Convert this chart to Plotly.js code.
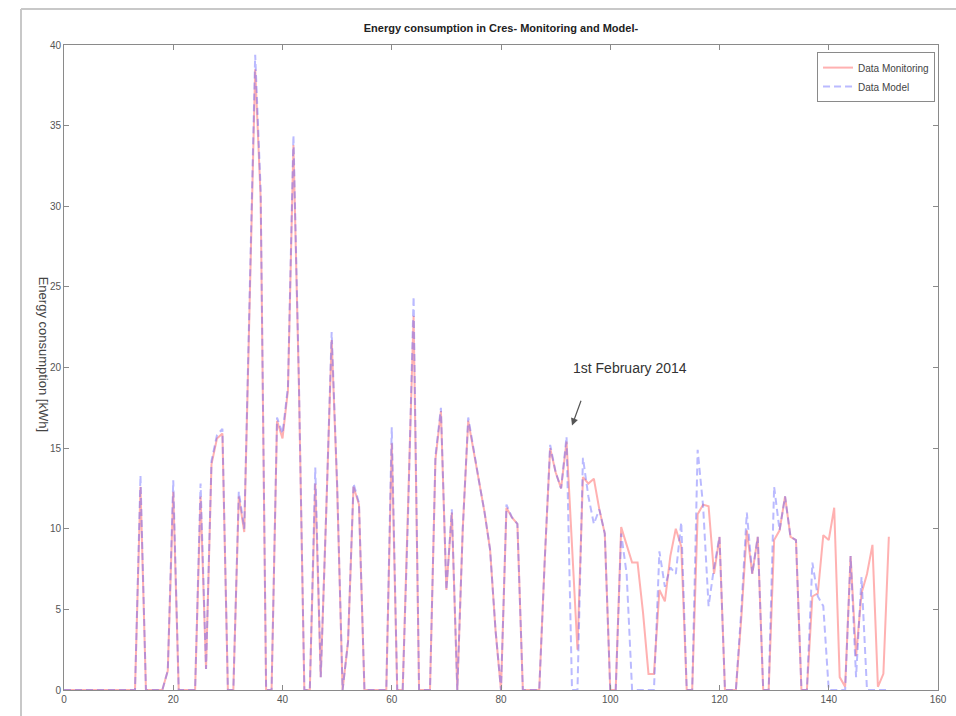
<!DOCTYPE html>
<html>
<head>
<meta charset="utf-8">
<script src="https://cdn.plot.ly/plotly-3.0.1.min.js"></script>
<style>html,body{margin:0;padding:0;background:#fff;}#chart{width:956px;height:716px;}</style>
</head>
<body>
<div id="chart"></div>
<script>
// Daily energy consumption (index = day)
var dataMonitoring = [
  0,0,0,0,0,0,0,0,0,0, 0,0,0,0,12.6,0,0,0,0,1.2,
  12.3,0,0,0,0,12.0,1.3,14.0,15.6,15.9, 0,0,12.0,9.8,24,38.5,30.5,0,0,16.7,
  15.6,18.6,33.8,19,0,0,12.8,0.8,11,21.7, 12.6,0,3,12.6,11.5,0,0,0,0,0,
  15.3,0,0,11,23.2,0,0,0,14.3,17.3, 6.2,11.0,0,10,16.7,14.8,12.9,11,8.7,3.7,
  0,11.3,10.7,10.3,0,0,0,0,8,15.0, 13.5,12.5,15.4,9,2.5,13.2,12.8,13.1,11.2,9.7,
  0,0,10.1,9.0,7.9,7.9,4.8,1.0,1.0,6.2, 5.5,8.3,10.0,8.9,0,0,10.9,11.5,11.4,7.2,
  9.5,0,0,0,4.5,9.9,7.2,9.5,0,0, 9.3,9.9,12.0,9.5,9.3,0,0,5.8,6.0,9.6,
  9.3,11.3,0.8,0.2,8.3,2.1,6.0,7.2,9.0,0.2, 1.0,9.5
];
var dataModel = [
  0,0,0,0,0,0,0,0,0,0, 0,0,0,0,13.3,0,0,0,0,1.2,
  13.0,0,0,0,0,12.8,1.3,14.2,15.8,16.2, 0,0,12.3,10.0,24.5,39.4,31,0,0,16.9,
  15.9,18.8,34.4,19.2,0,0,13.8,0.8,11,22.2, 12.8,0,3,12.8,11.6,0,0,0,0,0,
  16.3,0,0,11,24.4,0,0,0,14.5,17.5, 6.2,11.2,0,10,16.9,14.8,12.9,11,8.7,3.7,
  0,11.5,10.7,10.3,0,0,0,0,8,15.2, 13.5,12.5,15.7,0,0,14.4,12.0,10.3,11.2,9.7,
  0,0,9.7,7.2,0,0,0,0,0,8.6, 6.4,7.6,7.2,10.4,0,0,14.9,11.4,5.2,7.6,
  9.5,0,0,0,5,11,7.2,9.5,0,0, 12.6,9.9,12.0,9.5,9.3,0,0,7.9,5.8,5.2,
  0,0,0,0,8.3,0.8,7.0,0,0,0, 0,0
];
var seriesNames = ['Data Monitoring', 'Data Model'];
var xTicks = [0, 20, 40, 60, 80, 100, 120, 140, 160];
var yTicks = [0, 5, 10, 15, 20, 25, 30, 35, 40];
var titleText = 'Energy consumption in Cres- Monitoring and Model-';
var yTitleText = 'Energy consumption [kWh]';
var noteText = '1st February 2014';
var noteDay = 93, noteValue = 16.4;

var font = '"Liberation Sans", Arial, Helvetica, sans-serif';

var traces = [
  {y: dataMonitoring, type: 'scatter', mode: 'lines', name: seriesNames[0],
   line: {color: 'rgba(255,100,100,0.5)', width: 2}},
  {y: dataModel, type: 'scatter', mode: 'lines', name: seriesNames[1],
   line: {color: 'rgba(90,90,255,0.42)', width: 2, dash: '7px,4px'}}
];

var axisCommon = {
  showgrid: false, zeroline: false, showline: true, linecolor: '#8a8a8a', linewidth: 1,
  mirror: 'ticks', ticks: 'inside', ticklen: 5, tickcolor: '#8a8a8a',
  tickfont: {family: font, size: 10, color: '#555'}, fixedrange: true
};

var layout = {
  width: 956, height: 716,
  margin: {l: 64, r: 18, t: 45, b: 26},
  paper_bgcolor: '#fff', plot_bgcolor: '#fff',
  font: {family: font, color: '#333'},
  title: {text: titleText, font: {family: font, size: 11, color: '#222', weight: 'bold'},
          x: 0.524, xanchor: 'center', y: 0.961, yanchor: 'middle'},
  xaxis: Object.assign({}, axisCommon, {range: [0, 160], tickvals: xTicks, ticktext: xTicks.map(String)}),
  yaxis: Object.assign({}, axisCommon, {range: [0, 40], tickvals: yTicks, ticktext: yTicks.map(String)}),
  showlegend: true,
  legend: {x: 0.9966, y: 0.989, xanchor: 'right', yanchor: 'top',
           bgcolor: '#fff', bordercolor: '#8a8a8a', borderwidth: 1,
           font: {family: font, size: 10, color: '#444'}, tracegroupgap: 0},
  annotations: [
    {xref: 'paper', yref: 'paper', x: -0.035, y: 0.52, text: yTitleText, showarrow: false,
     textangle: 90, font: {family: font, size: 13, color: '#444'}},
    {x: noteDay + 10.6, y: noteValue + 3.55, text: noteText, showarrow: false,
     font: {family: font, size: 14, color: '#333'}},
    {x: noteDay, y: noteValue, text: ' ', showarrow: true, ax: 12, ay: -33,
     arrowhead: 2, arrowsize: 1.2, arrowwidth: 1.2, arrowcolor: '#555'}
  ],
  shapes: [
    {type: 'line', xref: 'paper', yref: 'paper', x0: -0.0492, x1: -0.0492, y0: 1.0558, y1: -0.05,
     line: {color: '#c8c8c8', width: 2}},
    {type: 'line', xref: 'paper', yref: 'paper', x0: -0.0492, x1: 1.03, y0: 1.0558, y1: 1.0558,
     line: {color: '#c8c8c8', width: 2}}
  ]
};

Plotly.newPlot('chart', traces, layout, {displayModeBar: false, staticPlot: true});
</script>
</body>
</html>
